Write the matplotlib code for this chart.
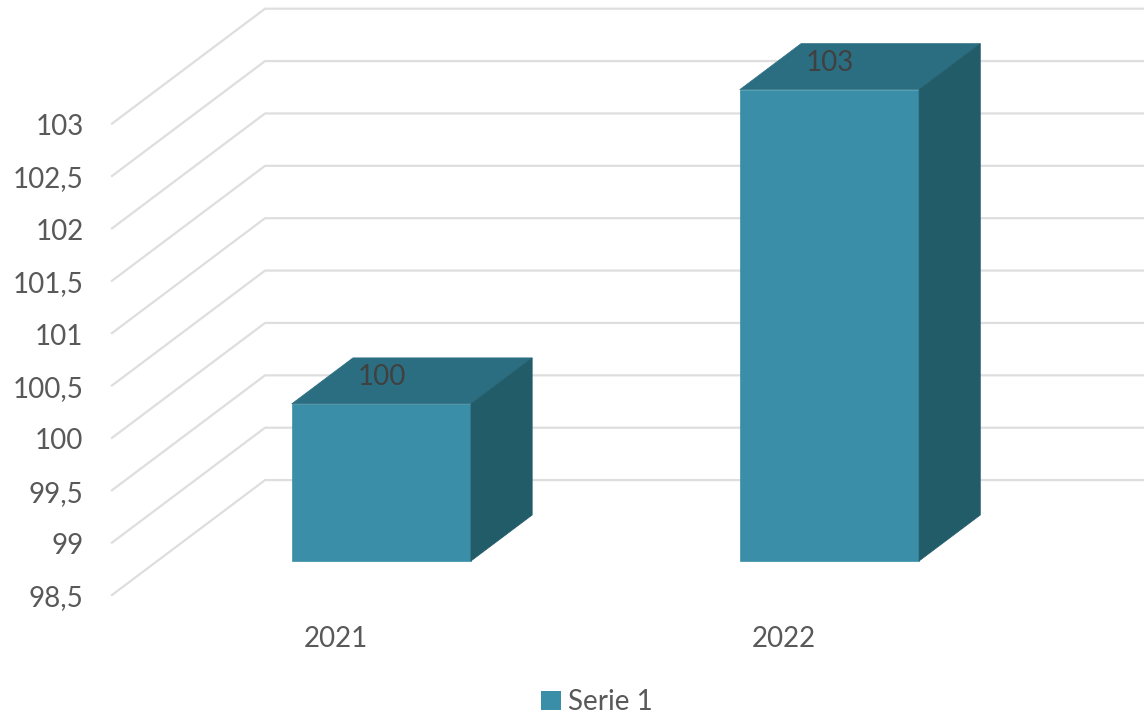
from matplotlib import pyplot as plt
from matplotlib.patches import Patch, Polygon
from matplotlib.transforms import ScaledTranslation

GRAPH_W, GRAPH_H = 1144, 716

categories = ["2021", "2022"]
series_name = "Serie 1"
values = [100, 103]
value_labels = ["100", "103"]
y_ticks = [98.5, 99, 99.5, 100, 100.5, 101, 101.5, 102, 102.5, 103]
y_tick_labels = ["98,5", "99", "99,5", "100", "100,5", "101", "101,5", "102", "102,5", "103"]

COLOR_FRONT = "#3A8EA8"
COLOR_TOP = "#2B6E81"
COLOR_SIDE = "#235C69"
COLOR_GRID = "#DEDEDE"
COLOR_TEXT = "#595959"

# Oblique projection: depth 0 is the front edge of the floor, 1 the back wall.
DEPTH_DX = 0.3415  # categories
DEPTH_DY = 1.097  # value units
BAR_WIDTH = 0.4
BAR_DEPTH_START = 0.296
BAR_DEPTH_END = 0.696
Y_MIN = 98.5
Y_MAX = 104.18


def project(x, y, depth):
    return x + depth * DEPTH_DX, y + depth * DEPTH_DY


def draw_bar(ax, center, value):
    left = center - BAR_WIDTH / 2
    right = center + BAR_WIDTH / 2
    z0, z1 = BAR_DEPTH_START, BAR_DEPTH_END
    faces = [
        ([(left, Y_MIN, z0), (right, Y_MIN, z0), (right, value, z0), (left, value, z0)], COLOR_FRONT),
        ([(left, value, z0), (right, value, z0), (right, value, z1), (left, value, z1)], COLOR_TOP),
        ([(right, Y_MIN, z0), (right, Y_MIN, z1), (right, value, z1), (right, value, z0)], COLOR_SIDE),
    ]
    for corners, color in faces:
        ax.add_patch(
            Polygon([project(*c) for c in corners], closed=True, facecolor=color, edgecolor=color, linewidth=0.5, zorder=3)
        )


plt.rcParams["font.family"] = ["Lato", "DejaVu Sans"]

fig = plt.figure(figsize=(GRAPH_W / 100, GRAPH_H / 100), dpi=100, facecolor="w")
# Axes corner sits on the front end of the lowest gridline.
ax = fig.add_axes([112 / GRAPH_W, (GRAPH_H - 595) / GRAPH_H, (GRAPH_W - 112) / GRAPH_W, 595 / GRAPH_H])
ax.set_xlim(-0.5, 1.803)
ax.set_ylim(Y_MIN, Y_MAX)
ax.set_facecolor("none")
for spine in ax.spines.values():
    spine.set_visible(False)

ax.set_xticks(range(len(categories)), categories)
ax.set_yticks(y_ticks, y_tick_labels)
ax.tick_params(axis="both", length=0, labelsize=20, labelcolor=COLOR_TEXT)
ax.tick_params(axis="x", pad=22)
ax.tick_params(axis="y", pad=20.5)
for label in ax.get_yticklabels():
    label.set_transform(label.get_transform() + ScaledTranslation(0, -1 / 100, fig.dpi_scale_trans))

# Gridlines run up the side wall, then along the back wall.
for tick in y_ticks:
    back_x, back_y = project(-0.5, tick, 1)
    ax.plot([-0.5, back_x, 1.803], [tick, back_y, back_y], color=COLOR_GRID, linewidth=1.6, zorder=1, clip_on=False)

for index, value in enumerate(values):
    draw_bar(ax, index, value)
    ax.annotate(
        value_labels[index],
        xy=project(index, value, BAR_DEPTH_START),
        xytext=(0.5, 19.5),
        textcoords="offset points",
        ha="center",
        va="center",
        fontsize=20,
        color="#404040",
        zorder=4,
    )

fig.legend(
    handles=[Patch(facecolor=COLOR_FRONT, label=series_name)],
    loc="center",
    bbox_to_anchor=(597 / GRAPH_W, (GRAPH_H - 702) / GRAPH_H),
    frameon=False,
    fontsize=20,
    labelcolor=COLOR_TEXT,
    handlelength=0.7,
    handleheight=0.7,
    handletextpad=0.25,
)

fig.savefig("out.png", dpi=100)
